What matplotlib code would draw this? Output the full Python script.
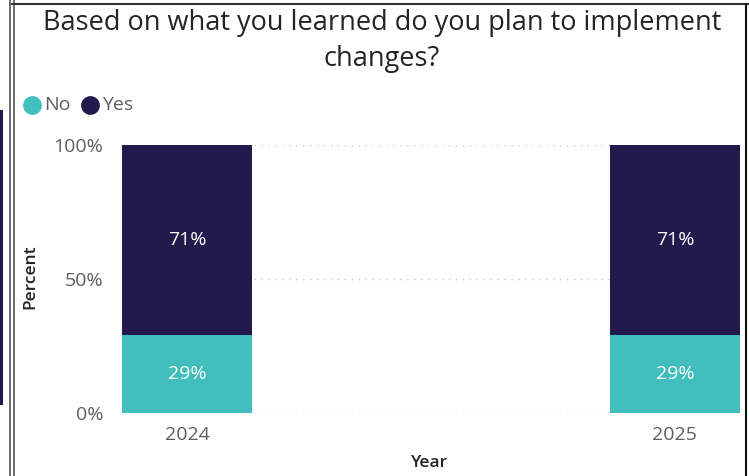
import matplotlib.pyplot as plt
from matplotlib.lines import Line2D
from matplotlib.patches import Rectangle

years = ['2024', '2025']
no_pct = [29, 29]
yes_pct = [71, 71]
series = ['No', 'Yes']
colors = {'No': '#41BEBD', 'Yes': '#221A4C'}

plt.rcParams['font.family'] = ['Open Sans', 'DejaVu Sans']

W, H = 749, 476
fig = plt.figure(figsize=(W / 100, H / 100), dpi=100)

# plot area in pixels: left 122, right 740, top 145, bottom 413
ax = fig.add_axes([122 / W, 1 - 413 / H, (740 - 122) / W, (413 - 145) / H])

x = list(range(len(years)))
bw = 0.267
ax.bar(x, no_pct, width=bw, color=colors['No'], zorder=3)
ax.bar(x, yes_pct, width=bw, bottom=no_pct, color=colors['Yes'], zorder=3)

for xi, n, y in zip(x, no_pct, yes_pct):
    ax.text(xi, n / 2, f'{n}%', ha='center', va='center', color='white', fontsize=14,
            fontweight='medium', zorder=4)
    ax.text(xi, n + y / 2, f'{y}%', ha='center', va='center', color='white', fontsize=14,
            fontweight='medium', zorder=4)

ax.set_xlim(-bw / 2, 1 + bw / 2)
ax.set_ylim(0, 100)
ax.set_yticks([0, 50, 100])
ax.set_yticklabels(['0%', '50%', '100%'])
ax.set_xticks(x)
ax.set_xticklabels(years)
ax.tick_params(length=0, colors='#605E5C', labelsize=14)
ax.tick_params(axis='y', pad=13.5)
ax.tick_params(axis='x', pad=9.5)
for s in ax.spines.values():
    s.set_visible(False)
ax.yaxis.grid(True, linestyle=(0, (1, 4)), color='#C8C6C4', linewidth=1, zorder=0)
ax.set_axisbelow(True)

fig.text(30.5 / W, 1 - 277 / H, 'Percent', rotation=90, ha='center', va='center',
         fontsize=12.5, fontweight='semibold', color='#252423')
fig.text(430 / W, 1 - 463 / H, 'Year', ha='center', va='center',
         fontsize=12.5, fontweight='semibold', color='#252423')

fig.text(382 / W, 1 - 23 / H, 'Based on what you learned do you plan to implement',
         ha='center', va='center', fontsize=19.5, color='#252423')
fig.text(382 / W, 1 - 59 / H, 'changes?', ha='center', va='center', fontsize=19.5, color='#252423')

# legend, drawn by hand
leg_x = [32, 90]
for s, lx in zip(series, leg_x):
    fig.add_artist(Line2D([lx / W], [1 - 105 / H], marker='o', linestyle='', markersize=12.5,
                          color=colors[s]))
    fig.text((lx + 12) / W, 1 - 105 / H, s, ha='left', va='center', fontsize=14, color='#605E5C')

# frame lines around the visual
fig.add_artist(Line2D([10 / W, 10 / W], [0, 1], color='#555555', linewidth=1.2))
fig.add_artist(Line2D([14 / W, 14 / W], [0, 1], color='#555555', linewidth=1.2))
fig.add_artist(Line2D([12 / W, 1], [1 - 3.5 / H, 1 - 3.5 / H], color='#333333', linewidth=1.5))
fig.add_artist(Line2D([745.5 / W, 745.5 / W], [0, 1 - 3.5 / H], color='#111111', linewidth=1.5))
fig.add_artist(Rectangle((0, 1 - 405 / H), 2.5 / W, 295 / H, transform=fig.transFigure,
                         color=colors['Yes'], linewidth=0))

fig.savefig('out.png', dpi=100)
